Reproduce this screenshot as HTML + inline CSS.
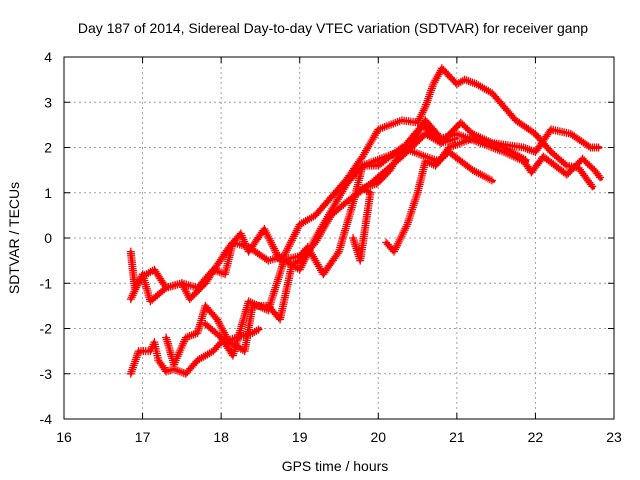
<!DOCTYPE html>
<html><head><meta charset="utf-8"><style>
html,body{margin:0;padding:0;background:#fff;}
svg{display:block;font-family:"Liberation Sans",sans-serif;}
</style></head><body>
<svg id="chart" width="640" height="480" viewBox="0 0 640 480">
<text x="333" y="33" font-size="14" text-anchor="middle" fill="#000">Day 187 of 2014, Sidereal Day-to-day VTEC variation (SDTVAR) for receiver ganp</text>
<text x="335" y="471" font-size="14" text-anchor="middle">GPS time / hours</text>
<text x="19" y="238" font-size="14" text-anchor="middle" transform="rotate(-90 19 238)">SDTVAR / TECUs</text>
<g id="grid"></g>
<g id="ticks"></g>
<g id="series"></g>
<rect x="64" y="57" width="550" height="362" fill="none" stroke="#000" stroke-width="1"/>
</svg>
<script>
const xTicks = [16,17,18,19,20,21,22,23];
const yTicks = [-4,-3,-2,-1,0,1,2,3,4];
const seriesA = [[16.85,-0.3],[16.9,-1.1],[17.0,-0.85],[17.15,-0.7],[17.3,-1.1],[17.5,-1.0],[17.6,-1.35],[17.8,-1.0],[17.95,-0.6],[18.1,-0.2],[18.25,0.1],[18.35,-0.3],[18.55,0.2],[18.75,-0.5],[19.0,-0.4],[19.1,-0.2],[19.3,-0.8],[19.5,-0.3],[19.7,0.9],[19.8,1.6],[20.0,1.6],[20.3,2.0],[20.6,1.8],[20.77,1.7],[20.9,1.9],[21.2,1.5],[21.47,1.25]];
const seriesB = [[16.85,-1.35],[17.0,-0.8],[17.1,-1.4],[17.3,-1.1],[17.5,-1.0],[17.7,-1.1],[17.9,-0.7],[18.05,-0.8],[18.15,-0.1],[18.35,-0.2],[18.6,-0.5],[18.8,-0.4],[19.0,0.3],[19.2,0.5],[19.4,0.9],[19.6,1.3],[19.8,1.8],[20.0,2.4],[20.3,2.6],[20.5,2.55],[20.6,2.9],[20.7,3.4],[20.81,3.75],[21.0,3.4],[21.1,3.5],[21.25,3.4],[21.45,3.2],[21.6,2.9],[21.75,2.6],[22.0,2.3],[22.2,1.9],[22.4,1.6],[22.55,1.55],[22.74,1.1]];
const seriesC = [[16.85,-3.0],[16.95,-2.5],[17.1,-2.5],[17.15,-2.3],[17.2,-2.7],[17.3,-2.95],[17.4,-2.9],[17.55,-3.0],[17.7,-2.7],[17.9,-2.5],[18.0,-2.3],[18.2,-2.2],[18.4,-2.1],[18.5,-2.0]];
const seriesD = [[17.3,-2.2],[17.4,-2.8],[17.55,-2.2],[17.7,-2.1],[17.8,-1.5],[17.95,-1.8],[18.1,-2.3],[18.3,-2.5],[18.4,-1.5],[18.6,-1.5],[18.75,-1.8],[18.9,-0.6],[19.0,-0.5],[19.2,-0.1],[19.4,0.5],[19.6,0.8],[19.9,1.2],[20.1,1.5],[20.3,1.8],[20.6,2.3],[20.8,2.1],[21.05,2.55],[21.2,2.3],[21.45,2.1],[21.85,2.0],[22.0,1.9],[22.2,2.4],[22.45,2.3],[22.7,2.0],[22.83,2.0]];
const seriesE = [[17.8,-1.9],[18.0,-2.2],[18.15,-2.6],[18.35,-1.4],[18.6,-1.6],[18.8,-0.5],[19.0,-0.7],[19.2,0.0],[19.4,0.6],[19.6,1.2],[19.8,1.6],[20.1,1.8],[20.4,2.0],[20.6,2.6],[20.8,2.2],[21.0,2.3],[21.3,2.1],[21.6,1.9],[21.85,1.7],[21.95,1.45],[22.1,1.8],[22.4,1.4],[22.6,1.75],[22.75,1.5],[22.84,1.3]];
const seriesF = [[19.68,0.0],[19.77,-0.5],[19.9,1.0],[19.8,1.1],[19.98,1.2],[20.15,1.5],[20.32,2.0],[20.56,2.5],[20.8,2.1],[21.0,2.2]];
const seriesG = [[20.1,-0.1],[20.2,-0.3],[20.37,0.3],[20.5,1.0],[20.6,1.7],[20.73,1.6],[20.9,2.0],[21.2,2.2],[21.6,2.0],[21.9,1.7]];

const NS="http://www.w3.org/2000/svg";
const X0=64,X1=614,Y0=419,Y1=57;
function xs(v){return X0+(v-16)/(23-16)*(X1-X0);}
function ys(v){return Y0-(v+4)/8*(Y0-Y1);}
const grid=document.getElementById('grid'),ticks=document.getElementById('ticks'),ser=document.getElementById('series');
function mk(t,a,p){const e=document.createElementNS(NS,t);for(const k in a)e.setAttribute(k,a[k]);p.appendChild(e);return e;}
xTicks.forEach(v=>{
  const x=xs(v);
  if(v>16&&v<23){const g=mk('line',{x1:x,x2:x,y1:Y0,y2:Y1,stroke:'#a0a0a0','stroke-dasharray':'2,3'},grid);
  
  }
  mk('line',{x1:x,x2:x,y1:Y0,y2:Y0-6,stroke:'#000'},ticks);
  mk('line',{x1:x,x2:x,y1:Y1,y2:Y1+6,stroke:'#000'},ticks);
  const t=mk('text',{x:x,y:442,'font-size':14,'text-anchor':'middle'},ticks);t.textContent=v;
  
  
});
yTicks.forEach(v=>{
  const y=ys(v);
  if(v>-4&&v<4){const g=mk('line',{x1:X0,x2:X1,y1:y,y2:y,stroke:'#a0a0a0','stroke-dasharray':'2,3'},grid);
  
  }
  mk('line',{x1:X0,x2:X0+6,y1:y,y2:y,stroke:'#000'},ticks);
  mk('line',{x1:X1,x2:X1-6,y1:y,y2:y,stroke:'#000'},ticks);
  const t=mk('text',{x:52,y:y+5,'font-size':14,'text-anchor':'end'},ticks);t.textContent=v;
  
  
});
[seriesA,seriesB,seriesC,seriesD,seriesE,seriesF,seriesG].forEach((s,i)=>{
  const g=mk('g',{},ser);
  
  
  const pts=s.map(p=>xs(p[0]).toFixed(1)+','+ys(p[1]).toFixed(1)).join(' ');
  mk('polyline',{points:pts,fill:'none',stroke:'#ff0000','stroke-width':3,'stroke-linejoin':'round','stroke-linecap':'round'},g);
  let d='';
  for(let k=0;k<s.length-1;k++){
    const ax=xs(s[k][0]),ay=ys(s[k][1]),bx=xs(s[k+1][0]),by=ys(s[k+1][1]);
    const n=Math.max(1,Math.round(Math.hypot(bx-ax,by-ay)/2.2));
    for(let j=0;j<n;j++){
      const x=ax+(bx-ax)*j/n,y=ay+(by-ay)*j/n;
      d+=`M${(x-4).toFixed(1)},${y.toFixed(1)}h8M${x.toFixed(1)},${(y-4).toFixed(1)}v8`;
    }
  }
  const m=mk('path',{d:d,stroke:'#ff0000','stroke-width':1.3,fill:'none'},g);
  
  
});
</script>
</body></html>
